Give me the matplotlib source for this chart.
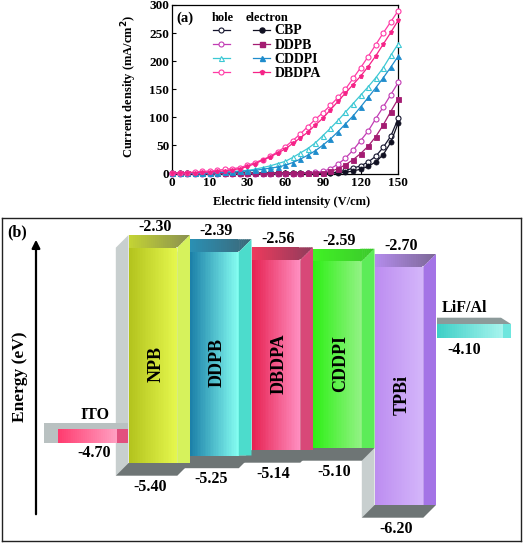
import numpy as np
import matplotlib
matplotlib.use('Agg')
import matplotlib.pyplot as plt
from matplotlib.patches import Polygon
from matplotlib.lines import Line2D
from matplotlib.colors import to_rgb

plt.rcParams['font.family'] = 'Liberation Serif'
plt.rcParams['font.weight'] = 'bold'

# ---------------- (a) J-V data (field positions 0..150, step 5) ----------------
field = np.arange(0, 155, 5)
field_ticks = [0, 25, 50, 75, 100, 125, 150]
field_labels = ['0', '10', '30', '60', '90', '120', '150']

cbp_hole = [0] * 21 + [0.5, 2, 5, 9, 13, 20, 30, 46, 66, 98]
cbp_elec = [0] * 22 + [0.5, 1.5, 4, 7, 12, 20, 33, 55, 90]
ddpb_hole = [-1] * 18 + [0, 1.5, 3, 8, 16, 27, 41, 58, 75, 97, 118, 140, 162]
ddpb_elec = [0] * 20 + [1, 3, 8, 15, 24, 35, 48, 65, 86, 110, 133]
cddpi_hole = [0, 0, 0, 0.3, 0.6, 1, 1.5, 2, 3, 4, 5, 7, 10, 13, 17, 21, 28, 36, 44, 54,
              67, 80, 94, 109, 124, 139, 154, 170, 188, 210, 231]
cddpi_elec = [0, 0, 0, 0, 0, 0.5, 1, 1.5, 2, 3, 4, 5, 7, 9, 11, 14, 19, 25, 32, 40,
              50, 61, 74, 88, 102, 118, 135, 152, 170, 189, 209]
dbdpa_hole = [0, 0.5, 1, 2, 3, 4, 5, 7, 8, 10, 14, 19, 24, 30, 38, 47, 58, 70, 83, 96,
              108, 121, 135, 150, 169, 188, 208, 229, 250, 270, 290]
dbdpa_elec = [0, 0.3, 0.6, 1, 1.5, 2, 3, 4, 6, 8, 12, 17, 23, 29, 36, 43, 53, 63, 73, 86,
              98, 113, 128, 143, 158, 173, 190, 209, 230, 251, 273]

materials = ['CBP', 'DDPB', 'CDDPI', 'DBDPA']
hole_data = [cbp_hole, ddpb_hole, cddpi_hole, dbdpa_hole]
elec_data = [cbp_elec, ddpb_elec, cddpi_elec, dbdpa_elec]
hole_colors = ['#15152e', '#c23cb4', '#3cc8d4', '#ff3aa6']
elec_colors = ['#111122', '#a41c72', '#1f8ccc', '#f52287']
hole_markers = ['o', 'o', '^', 'o']
elec_markers = ['o', 's', '^', 'p']

# ---------------- (b) energy levels ----------------
layers = ['NPB', 'DDPB', 'DBDPA', 'CDDPI', 'TPBi']
lumo = [-2.30, -2.39, -2.56, -2.59, -2.70]
homo = [-5.40, -5.25, -5.14, -5.10, -6.20]
ito_level = -4.70
cathode_level = -4.10

front_left = ['#b2c21c', '#1b7fa8', '#e61e4e', '#2cf014', '#bc8cf0']
front_right = ['#e6f84e', '#86fff2', '#ff90c2', '#94f286', '#d4b6fa']
top_left = ['#c4d434', '#2a90b4', '#ee3a5c', '#40f224', '#b48cec']
top_right = ['#8a9050', '#3c6878', '#8e3c5c', '#3cc82c', '#7c6896']
bevel = ['#d6f25c', '#4cdccc', '#d84878', '#5cec58', '#a474e6']

fig = plt.figure(figsize=(5.25, 5.43), dpi=100)

# ================= panel (a) =================
ax = fig.add_axes([172 / 525, 1 - 174.3 / 543, 226.3 / 525, 169.3 / 543])
for i in range(4):
    ax.plot(field, hole_data[i], color=hole_colors[i], marker=hole_markers[i], ms=3.6,
            mfc='white', mec=hole_colors[i], mew=0.8, lw=0.9, clip_on=False, zorder=3)
    ax.plot(field, elec_data[i], color=elec_colors[i], marker=elec_markers[i], ms=3.6,
            mfc=elec_colors[i], mec=elec_colors[i], mew=0.6, lw=0.9, clip_on=False, zorder=3)

ax.set_xlim(0, 150)
ax.set_ylim(-2, 300)
ax.set_xticks(field_ticks)
ax.set_xticklabels(field_labels)
ax.set_yticks(range(0, 301, 50))
ax.tick_params(direction='in', length=3, width=0.8, labelsize=9.5, pad=2)
for s in ax.spines.values():
    s.set_linewidth(0.9)
ax.set_xlabel('Electric field intensity (V/cm)', fontsize=9, fontweight='bold')
ax.set_ylabel('Current density (mA/cm$^\\mathbf{2}$)', fontsize=9, fontweight='bold')
ax.xaxis.set_label_coords(0.53, -0.13)
ax.yaxis.set_label_coords(-0.147, 0.52)

handles = []
labels = []
for i in range(4):
    handles.append(Line2D([], [], color=hole_colors[i], marker=hole_markers[i], ms=3.6,
                          mfc='white', mec=hole_colors[i], mew=0.8, lw=0.9))
    labels.append('')
for i in range(4):
    handles.append(Line2D([], [], color=elec_colors[i], marker=elec_markers[i], ms=3.6,
                          mfc=elec_colors[i], mec=elec_colors[i], lw=0.9))
    labels.append(materials[i])
ax.legend(handles, labels, ncol=2, loc='upper left', bbox_to_anchor=(0.181, 0.885),
          frameon=False, fontsize=10, handlelength=1.2, handletextpad=0.35,
          columnspacing=1.35, labelspacing=0.08, borderpad=0, borderaxespad=0)
ax.text(0.057, 0.922, '(a)', transform=ax.transAxes, fontsize=10.5, ha='center', va='center')
ax.text(0.226, 0.922, 'hole', transform=ax.transAxes, fontsize=9, ha='center', va='center')
ax.text(0.42, 0.922, 'electron', transform=ax.transAxes, fontsize=9, ha='center', va='center')

# ================= panel (b) =================
# schematic (non-linear) energy axis, as in the original drawing
KNOT_E = [-6.89, -6.20, -5.40, -5.10, -4.70, -4.10, -2.70, -2.30, -1.95]
KNOT_H = [2, 38, 80, 95, 107, 212, 289, 308, 325]


def E(h):
    return np.interp(h, KNOT_H, KNOT_E)


def H(e):
    return np.interp(e, KNOT_E, KNOT_H)


axb = fig.add_axes([2 / 525, 2 / 543, 519 / 525, 323 / 543])
axb.set_yscale('function', functions=(H, E))
axb.set_xlim(2, 521)
axb.set_ylim(E(2), E(325))
axb.set_xticks([])
axb.set_yticks([])
axb.minorticks_off()
for s in axb.spines.values():
    s.set_linewidth(1.0)
    s.set_color('#222222')

D = 12.7
SIDE = '#c8cfcf'
FLOOR = '#6e7575'


def poly(pts, color, z):
    axb.add_patch(Polygon([(x, E(h)) for x, h in pts], closed=True, fc=color,
                          ec='none', lw=0, zorder=z))


def mix(c0, c1, t):
    c0 = np.array(to_rgb(c0))
    c1 = np.array(to_rgb(c1))
    return tuple(c0 + (c1 - c0) * t)


def gradient(x0, x1, lo, hi, c0, c1, z, n=30):
    xs = np.linspace(x0, x1, n + 1)
    for i in range(n):
        xl, xr = xs[i], min(xs[i + 1] + 0.6, x1)
        poly([(xl, lo(xl)), (xr, lo(xr)), (xr, hi(xr)), (xl, hi(xl))],
             mix(c0, c1, (i + 0.5) / n), z)


x0, w = 128.5, 61.5
for i in range(len(layers) - 1, -1, -1):
    a = x0 + i * w
    b = a + w
    hi, lo = H(lumo[i]), H(homo[i])
    z = 10 - i
    poly([(a, hi), (a - D, hi - D), (a - D, lo - D), (a, lo)], SIDE, z)
    poly([(a, lo), (a - D, lo - D), (b - D, lo - D), (b, lo)], FLOOR, z)
    gradient(a, b - D, lambda x, lo=lo: lo, lambda x, hi=hi: hi - D,
             front_left[i], front_right[i], z)
    gradient(a, b, lambda x, hi=hi, b=b: hi - D + max(0, x - (b - D)),
             lambda x, hi=hi: hi, top_left[i], top_right[i], z)
    poly([(b - D, lo), (b, lo), (b, hi), (b - D, hi - D)], bevel[i], z)

    cx = a + (w - D) / 2
    axb.text(cx + 2, E(hi + 8), f'{lumo[i]:.2f}', fontsize=11.5, ha='center', va='center', zorder=20)
    axb.text(cx - 3, E(lo - D - 11), f'{homo[i]:.2f}', fontsize=11.5, ha='center', va='center', zorder=20)
    axb.text(cx + 3, E((hi - D + lo) / 2 - 9), layers[i], fontsize=13, rotation=90,
             ha='center', va='center', zorder=20)

# ITO anode slab
a, b = 57.7, 128.3
hc = H(ito_level)
hi, lo = hc + 7, hc - 7
poly([(a - 13.3, lo), (a - 13.3, hi + 6), (b, hi + 6), (b, lo)], '#b9c1c1', 11)
gradient(a, b - 11.6, lambda x: lo, lambda x: hi, '#ff3a6e', '#ffa0c2', 11)
poly([(b - 11.6, lo), (b, lo), (b, hi), (b - 11.6, hi)], '#e2507e', 11)
axb.text((a + b) / 2 + 2, E(hi + 14), 'ITO', fontsize=11.5, ha='center', va='center', zorder=20)
axb.text((a + b) / 2 + 1, E(lo - 10), f'{ito_level:.2f}', fontsize=11.5, ha='center', va='center', zorder=20)

# LiF/Al cathode slab
a, b = 437, 511
hc = H(cathode_level)
hi, lo = hc + 7, hc - 7
poly([(a, hi), (a, hi + 6.3), (b - 10, hi + 6.3), (b, hi)], '#8c9a9a', 0.5)
gradient(a, b - 8, lambda x: lo, lambda x: hi, '#3ccfc6', '#a8f4ee', 0.5)
poly([(b - 8, lo), (b, lo), (b, hi), (b - 8, hi)], '#6ee6de', 0.5)
axb.text((a + b) / 2 - 10, E(hi + 16), 'LiF/Al', fontsize=11.5, ha='center', va='center', zorder=20)
axb.text((a + b) / 2 - 10, E(lo - 12), f'{cathode_level:.2f}', fontsize=11.5, ha='center', va='center', zorder=20)

# energy arrow and labels
axb.annotate('', xy=(36, E(306)), xytext=(36, E(26)),
             arrowprops=dict(arrowstyle='-|>', lw=1.6, color='black', mutation_scale=12))
axb.text(20, E(166), 'Energy (eV)', fontsize=12.5, rotation=90, ha='center', va='center')
axb.text(17, E(311), '(b)', fontsize=11.5, ha='center', va='center')

fig.savefig('out.png', dpi=100)
